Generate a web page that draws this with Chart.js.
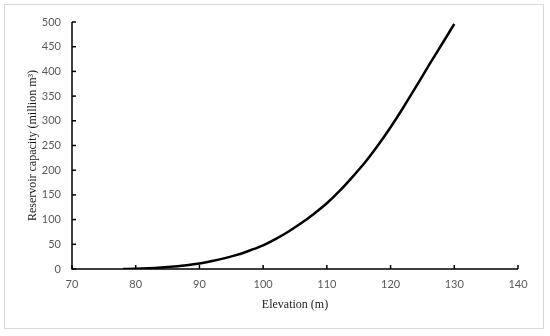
<!DOCTYPE html>
<html lang="en">
<head>
  <meta charset="utf-8">
  <title>Reservoir capacity curve</title>
  <script src="https://cdn.jsdelivr.net/npm/chart.js"></script>
  <style>
    html, body { margin: 0; padding: 0; background: #fff; }
    #wrap { width: 550px; height: 336px; position: relative; }
  </style>
</head>
<body>
  <div id="wrap"><canvas id="myChart"></canvas></div>
  <script>
    // elevation (m) and storage (million m3)
    var elevation = [78, 80, 82, 84, 86, 88, 90, 92, 94, 96, 98, 100, 102, 104, 106, 108, 110,
      112, 114, 116, 118, 120, 122, 124, 126, 128, 130];
    var capacity = [0, 0.5, 1.5, 3, 5, 7.5, 11, 16, 22, 29, 38, 48, 61, 76, 93, 112, 133,
      158, 186, 216, 250, 287, 327, 369, 412, 454, 496];
    var xTicks = [70, 80, 90, 100, 110, 120, 130, 140];
    var yTicks = [0, 50, 100, 150, 200, 250, 300, 350, 400, 450, 500];

    var points = elevation.map(function (e, i) { return { x: e, y: capacity[i] }; });

    // outer frame + inward tick marks
    var frame = {
      id: 'frame',
      beforeDraw: function (chart) {
        var c = chart.ctx;
        c.save();
        c.strokeStyle = '#d9d9d9';
        c.lineWidth = 1;
        c.strokeRect(4.5, 4.5, 539, 324);
        c.restore();
      },
      afterDatasetsDraw: function (chart) {
        var c = chart.ctx, xs = chart.scales.x, ys = chart.scales.y, a = chart.chartArea;
        c.save();
        c.strokeStyle = '#000';
        c.lineWidth = 1.5;
        xTicks.forEach(function (t) {
          var px = xs.getPixelForValue(t);
          c.beginPath(); c.moveTo(px, a.bottom); c.lineTo(px, a.bottom - 4); c.stroke();
        });
        yTicks.forEach(function (t) {
          var py = ys.getPixelForValue(t);
          c.beginPath(); c.moveTo(a.left, py); c.lineTo(a.left + 4, py); c.stroke();
        });
        c.beginPath();
        c.moveTo(a.left, a.top); c.lineTo(a.left, a.bottom); c.lineTo(a.right, a.bottom);
        c.stroke();
        c.restore();
      }
    };

    var tickFont = { family: 'Lato', size: 11 };
    var titleFont = { family: 'Liberation Serif', size: 12 };

    new Chart(document.getElementById('myChart'), {
      type: 'line',
      data: {
        datasets: [{
          data: points,
          borderColor: '#000',
          borderWidth: 2.5,
          pointRadius: 0,
          fill: false,
          cubicInterpolationMode: 'monotone'
        }]
      },
      options: {
        responsive: true,
        maintainAspectRatio: false,
        animation: false,
        layout: { padding: { left: 0, right: 32, top: 22, bottom: 0 } },
        plugins: { legend: { display: false }, tooltip: { enabled: false } },
        scales: {
          x: {
            type: 'linear',
            min: 70, max: 140,
            afterBuildTicks: function (s) { s.ticks = xTicks.map(function (v) { return { value: v }; }); },
            afterFit: function (s) { s.height = 67; },
            grid: { display: false, drawTicks: false },
            border: { display: false },
            ticks: { color: '#595959', font: tickFont, padding: 9, maxRotation: 0 },
            title: { display: true, text: 'Elevation (m)', color: '#1a1a1a', font: titleFont, padding: { top: 0, bottom: 24 } }
          },
          y: {
            min: 0, max: 500,
            afterBuildTicks: function (s) { s.ticks = yTicks.map(function (v) { return { value: v }; }); },
            afterFit: function (s) { s.width = 72; },
            grid: { display: false, drawTicks: false },
            border: { display: false },
            ticks: { color: '#595959', font: tickFont, padding: 11 },
            title: { display: true, text: 'Reservoir capacity (million m³)', color: '#1a1a1a', font: titleFont, padding: { top: 26, bottom: 0 } }
          }
        }
      },
      plugins: [frame]
    });
  </script>
</body>
</html>
